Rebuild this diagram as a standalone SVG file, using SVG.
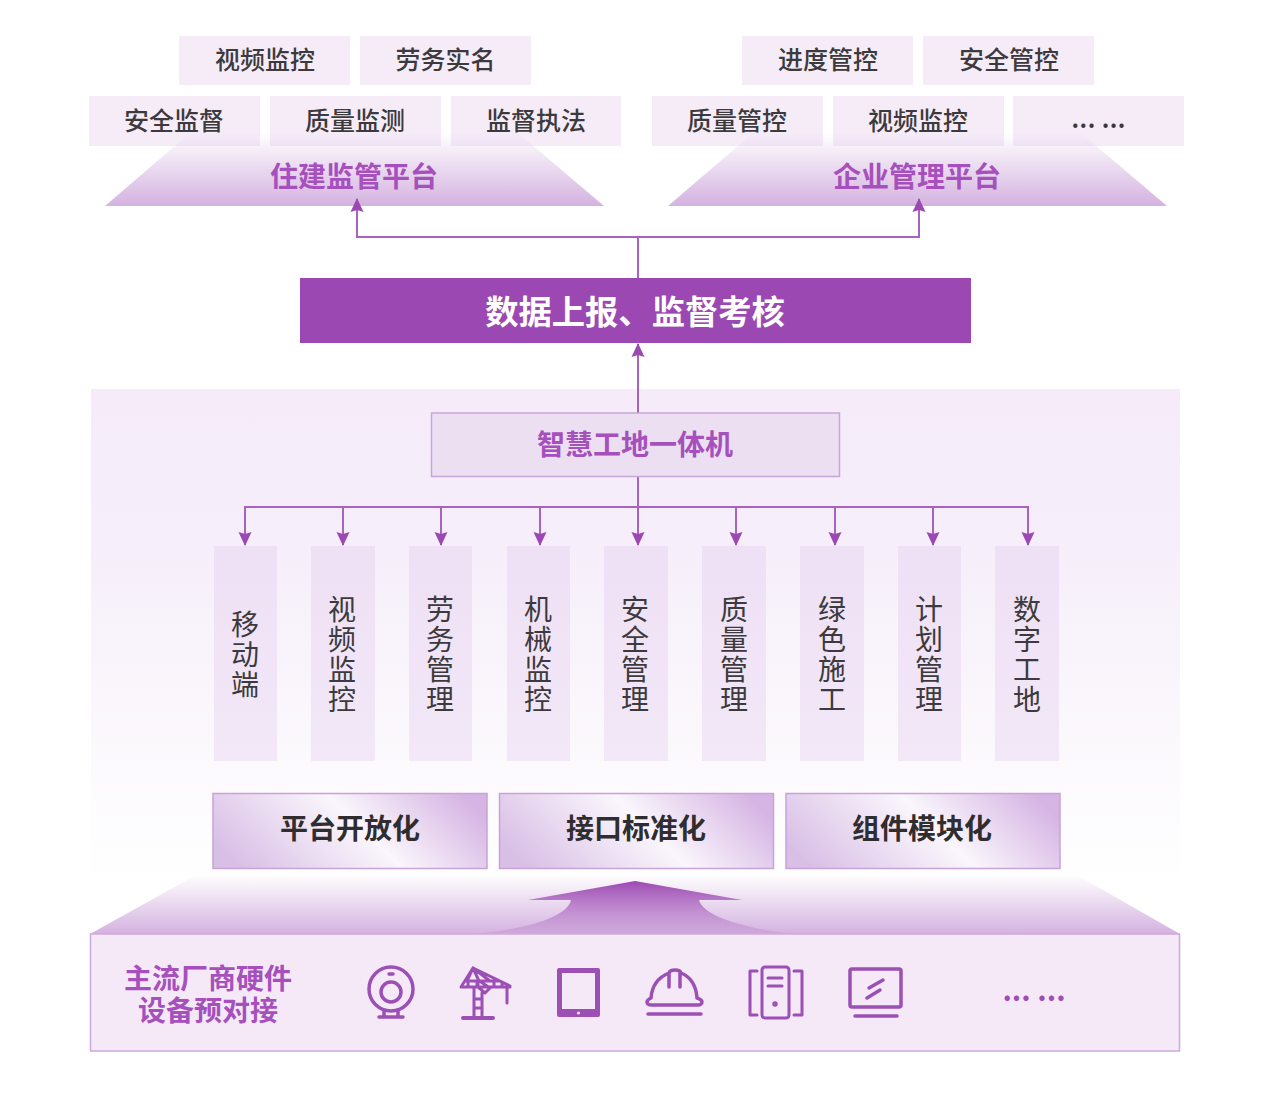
<svg xmlns="http://www.w3.org/2000/svg" width="1268" height="1101" viewBox="0 0 1268 1101">
<defs>
<linearGradient id="fade" x1="0" y1="0" x2="0" y2="1"><stop offset="0" stop-color="#d4b2e0" stop-opacity="0"/><stop offset="1" stop-color="#d4b2e0"/></linearGradient>
<linearGradient id="panel" x1="0" y1="0" x2="0" y2="1"><stop offset="0" stop-color="#f5ebf9"/><stop offset="0.3" stop-color="#f6eefa"/><stop offset="0.78" stop-color="#fcfafd"/><stop offset="1" stop-color="#ffffff"/></linearGradient>
<linearGradient id="col" x1="0" y1="0" x2="0" y2="1"><stop offset="0" stop-color="#eee0f5"/><stop offset="1" stop-color="#f2e8f7"/></linearGradient>
<linearGradient id="bar" x1="0" y1="0.64" x2="1" y2="0.36"><stop offset="0" stop-color="#d9bfe6"/><stop offset="0.55" stop-color="#faf6fc"/><stop offset="1" stop-color="#d6b5e4"/></linearGradient>
<linearGradient id="arrowFill" x1="0" y1="0" x2="0" y2="1"><stop offset="0" stop-color="#9c48b2"/><stop offset="1" stop-color="#9c48b2" stop-opacity="0.1"/></linearGradient>
<marker id="ah" markerUnits="userSpaceOnUse" markerWidth="14" markerHeight="15" refX="13" refY="7" orient="auto"><path d="M0,0.5 L14,7 L0,13.500 L2,7 Z" fill="#9c48b2"/></marker>
</defs>
<style>
text{font-family:"Noto Sans CJK SC","Noto Sans",sans-serif;text-anchor:middle;dominant-baseline:central}
.tile{fill:#f5ecf8}
.lbl{font-size:25px;font-weight:500;fill:#3c3a3c}
.plat{font-size:28px;font-weight:700;fill:#a650bd}
.colbox{fill:url(#col)}
.v{font-size:28px;fill:#3c3a3c;writing-mode:vertical-rl;text-orientation:upright;letter-spacing:2px}
.barbox{fill:url(#bar);stroke:#c9a2d8;stroke-width:1.5}
.bt{font-size:28px;font-weight:700;fill:#2f2d2f}
.conn{fill:none;stroke:#a962c0;stroke-width:2}
.ic{fill:none;stroke:#9c4fb5;stroke-width:3.5;stroke-linecap:round;stroke-linejoin:round}
.ic2{fill:none;stroke:#9c4fb5;stroke-width:3;stroke-linecap:round;stroke-linejoin:round}
.hw{font-size:28px;font-weight:700;fill:#a650bd}
</style>
<rect width="1268" height="1101" fill="#ffffff"/>
<g id="panel-bg"><rect x="91" y="389" width="1089" height="495" fill="url(#panel)"/></g>
<g id="tiles-left">
<g id="t-video"><rect class="tile" x="179" y="36" width="171" height="49"/><text class="lbl" x="265" y="57.500">视频监控</text></g>
<g id="t-labor"><rect class="tile" x="360" y="36" width="171" height="49"/><text class="lbl" x="445.500" y="57.500">劳务实名</text></g>
<g id="t-safe"><rect class="tile" x="89" y="96" width="171" height="50"/><text class="lbl" x="174" y="118.500">安全监督</text></g>
<g id="t-quality"><rect class="tile" x="270" y="96" width="171" height="50"/><text class="lbl" x="355" y="118.500">质量监测</text></g>
<g id="t-law"><rect class="tile" x="451" y="96" width="170" height="50"/><text class="lbl" x="536" y="118.500">监督执法</text></g>
</g>
<g id="tiles-right">
<g id="t-progress"><rect class="tile" x="742" y="36" width="171" height="49"/><text class="lbl" x="828" y="57.500">进度管控</text></g>
<g id="t-safety"><rect class="tile" x="923" y="36" width="171" height="49"/><text class="lbl" x="1009" y="57.500">安全管控</text></g>
<g id="t-qc"><rect class="tile" x="652" y="96" width="171" height="50"/><text class="lbl" x="737" y="118.500">质量管控</text></g>
<g id="t-vc"><rect class="tile" x="833" y="96" width="171" height="50"/><text class="lbl" x="918" y="118.500">视频监控</text></g>
<g id="t-more"><rect class="tile" x="1013" y="96" width="171" height="50"/><text x="1098.500" y="116.500" font-size="27" font-weight="500" fill="#3c3a3c">... ...</text></g>
</g>
<g id="platform-left"><path d="M190,133 H518 L604,206 H105 Z" fill="url(#fade)"/><text class="plat" x="354" y="174.500">住建监管平台</text></g>
<g id="platform-right"><path d="M753,133 H1081 L1167,206 H668 Z" fill="url(#fade)"/><text class="plat" x="917" y="174.500">企业管理平台</text></g>
<g id="report"><rect x="300" y="278" width="671" height="65" fill="#9c48b2"/><text x="635" y="309" font-size="33.300" font-weight="700" fill="#ffffff">数据上报、监督考核</text></g>
<g id="connectors">
<path class="conn" d="M638,278 V237"/>
<path class="conn" d="M638,237 H357 V199" marker-end="url(#ah)"/>
<path class="conn" d="M638,237 H919 V199" marker-end="url(#ah)"/>
<path class="conn" d="M638,413 V344" marker-end="url(#ah)"/>
<path class="conn" d="M638,476 V545" marker-end="url(#ah)"/>
<path class="conn" d="M638,507 H245 V545" marker-end="url(#ah)"/>
<path class="conn" d="M638,507 H1028 V545" marker-end="url(#ah)"/>
<path class="conn" d="M343,507 V545" marker-end="url(#ah)"/>
<path class="conn" d="M441,507 V545" marker-end="url(#ah)"/>
<path class="conn" d="M540,507 V545" marker-end="url(#ah)"/>
<path class="conn" d="M736,507 V545" marker-end="url(#ah)"/>
<path class="conn" d="M835,507 V545" marker-end="url(#ah)"/>
<path class="conn" d="M933,507 V545" marker-end="url(#ah)"/>
</g>
<g id="machine"><rect x="431.500" y="413" width="408" height="63.500" fill="#ecdff2" stroke="#c9a6d8" stroke-width="1.500"/><text class="plat" x="635" y="442.500">智慧工地一体机</text></g>
<g id="c1"><rect class="colbox" x="214" y="546" width="63" height="215"/><text class="v" x="245" y="655">移动端</text></g>
<g id="c2"><rect class="colbox" x="311" y="546" width="64" height="215"/><text class="v" x="342" y="655">视频监控</text></g>
<g id="c3"><rect class="colbox" x="409" y="546" width="63" height="215"/><text class="v" x="440" y="655">劳务管理</text></g>
<g id="c4"><rect class="colbox" x="507" y="546" width="63" height="215"/><text class="v" x="538" y="655">机械监控</text></g>
<g id="c5"><rect class="colbox" x="604" y="546" width="64" height="215"/><text class="v" x="635" y="655">安全管理</text></g>
<g id="c6"><rect class="colbox" x="702" y="546" width="64" height="215"/><text class="v" x="734" y="655">质量管理</text></g>
<g id="c7"><rect class="colbox" x="800" y="546" width="64" height="215"/><text class="v" x="832" y="655">绿色施工</text></g>
<g id="c8"><rect class="colbox" x="898" y="546" width="63" height="215"/><text class="v" x="929" y="655">计划管理</text></g>
<g id="c9"><rect class="colbox" x="995" y="546" width="64" height="215"/><text class="v" x="1027" y="655">数字工地</text></g>
<g id="b1"><rect class="barbox" x="213" y="793.500" width="274" height="75"/><text class="bt" x="350" y="827">平台开放化</text></g>
<g id="b2"><rect class="barbox" x="499.500" y="793.500" width="274" height="75"/><text class="bt" x="636" y="827">接口标准化</text></g>
<g id="b3"><rect class="barbox" x="786" y="793.500" width="274" height="75"/><text class="bt" x="922" y="827">组件模块化</text></g>
<g id="base-shape">
<path d="M198,874 H1075 L1180,934 H90 Z" fill="url(#fade)"/>
<path d="M635,881 L742,900 H699 C703,916 745,929 795,934 H473 C530,929 568,916 571,900 H528 Z" fill="url(#arrowFill)"/>
</g>
<g id="hardware">
<rect x="90.500" y="934" width="1089" height="117" fill="#f5e9f8" stroke="#cfa9dc" stroke-width="1.500"/>
<text class="hw" x="208" y="977">主流厂商硬件</text>
<text class="hw" x="208" y="1009">设备预对接</text>
<g id="icon-webcam" class="ic"><circle cx="391" cy="989" r="22"/><circle cx="391" cy="992" r="10"/><path d="M389,974 H393 M384,1011 V1017 M398,1011 V1017 M379,1017 H403"/></g>
<g id="icon-crane" class="ic2"><path d="M461,987 L473,968 L510,986 V987 Z M465,981 H498 M468,981 V987 M477,981 V987 M494,981 V987 M502,983 V987 M473,968 L467,981 M473,968 L479,981 M473,968 L490,981 M478,980 L490,988 L485,993 L478,987 Z M507,987 V1003 M474,988 V1017 M482,993 V1017 M474,999 H482 M474,1008 H482"/><path d="M463,1018 H493" stroke-width="4"/></g>
<g id="icon-tablet"><path d="M559,968 H598 Q600,968 600,970 V1015 Q600,1017 598,1017 H559 Q557,1017 557,1015 V970 Q557,968 559,968 Z M562,973 V1009 H595 V973 Z" fill="#9c4fb5" fill-rule="evenodd"/><circle cx="578.500" cy="1013" r="1.500" fill="#f5e9f8"/></g>
<g id="icon-helmet" class="ic"><path d="M651,998 C652,985 659,977 669,973 C670,969 680,969 681,973 C691,977 696,985 697,998 C700,999 702,1000 702,1002 C702,1004 700,1005 698,1005 H652 C649,1005 647,1004 647,1002 C647,1000 649,999 651,998 Z M669,973 V987 M680,973 V987"/><path d="M648,1014 H701"/></g>
<g id="icon-server" class="ic2"><rect x="762" y="967" width="27" height="51" rx="3"/><path d="M768,978 H782 M768,986 H782 M757,971 H750 V1015 H757 M794,971 H802 V1015 H794"/><circle cx="775" cy="1004" r="1.200"/></g>
<g id="icon-monitor" class="ic"><rect x="850" y="969" width="51" height="38" rx="2"/><path d="M869,988 L883,980 M867,998 L880,990"/><path d="M855,1016 H897"/></g>
<text x="1034" y="988" font-size="29" font-weight="700" fill="#9c4fb5">... ...</text>
</g>
</svg>
